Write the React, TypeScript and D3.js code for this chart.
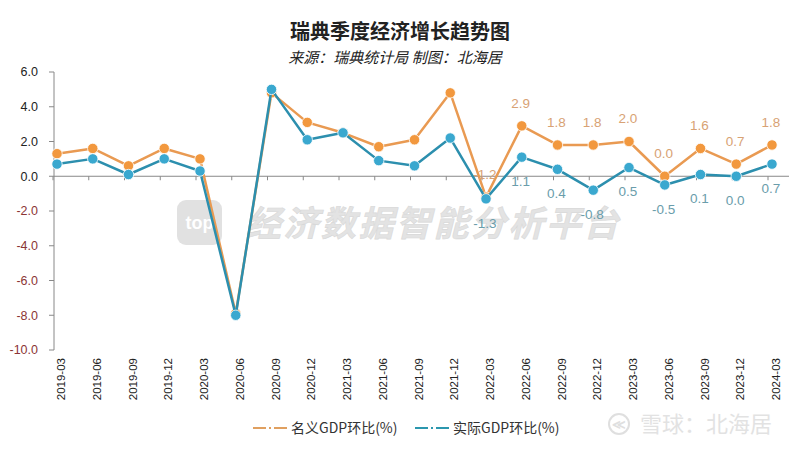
import React from "react";
import * as d3 from "d3";

const categories = [
  "2019-03","2019-06","2019-09","2019-12","2020-03","2020-06","2020-09","2020-12",
  "2021-03","2021-06","2021-09","2021-12","2022-03","2022-06","2022-09","2022-12",
  "2023-03","2023-06","2023-09","2023-12","2024-03",
];
const nominal = [1.3, 1.6, 0.6, 1.6, 1.0, -7.9, 4.8, 3.1, 2.5, 1.7, 2.1, 4.8, -1.2, 2.9, 1.8, 1.8, 2.0, 0.0, 1.6, 0.7, 1.8];
const real =    [0.7, 1.0, 0.1, 1.0, 0.3, -8.0, 5.0, 2.1, 2.5, 0.9, 0.6, 2.2, -1.3, 1.1, 0.4, -0.8, 0.5, -0.5, 0.1, 0.0, 0.7];
const labelFrom = 12;
const yTicks = [6, 4, 2, 0, -2, -4, -6, -8, -10];
const seriesNames = ["名义GDP环比(%)", "实际GDP环比(%)"];

const W = 800, H = 450;
const NUM_FONT = "'Liberation Sans', Arial, sans-serif";
const CJK_FONT = "'Noto Sans CJK SC', 'Noto Sans', sans-serif";

const ORANGE_LINE = "#e99a52";
const ORANGE_PT = "#f2983e";
const BLUE_LINE = "#2c8fae";
const BLUE_PT = "#3aa8cf";
const ORANGE_LBL = "#d8a274";
const BLUE_LBL = "#6a9dab";

export default function App() {
  const x = d3.scalePoint<string>().domain(categories).range([57, 772]);
  const y = d3.scaleLinear().domain([-10, 6]).range([350, 72]);
  const line = d3
    .line<number>()
    .x((_, i) => x(categories[i]) as number)
    .y((d) => y(d));

  const series = [
    { vals: nominal, line: ORANGE_LINE, pt: ORANGE_PT, lbl: ORANGE_LBL, dy: -23 },
    { vals: real, line: BLUE_LINE, pt: BLUE_PT, lbl: BLUE_LBL, dy: 24 },
  ];

  return (
    <svg width={W} height={H} style={{ position: "absolute", left: 0, top: 0, background: "#fff" }}>
      <rect x={0} y={0} width={W} height={H} fill="#fff" />
      {/* title */}
      <text x={400} y={39} textAnchor="middle" fontFamily={CJK_FONT} fontWeight="bold" fontSize={20} fill="#222">
        瑞典季度经济增长趋势图
      </text>
      <text x={395} y={63} textAnchor="middle" fontFamily={CJK_FONT} fontStyle="italic" fontSize={15} fill="#222">
        来源：瑞典统计局 制图：北海居
      </text>

      {/* watermark */}
      <g opacity={0.8}>
        <rect x={177} y={200} width={45} height={45} rx={9} fill="#dadada" />
        <text x={199.5} y={229} textAnchor="middle" fontFamily={NUM_FONT} fontWeight="bold" fontSize={18} fill="#fff">top</text>
        <text x={246} y={236} fontFamily={CJK_FONT} fontWeight="bold" fontStyle="italic" fontSize={35} fill="#dddddd" stroke="#cfcfcf" strokeWidth={0.6} letterSpacing={2.5}>
          经济数据智能分析平台
        </text>
      </g>

      {/* y axis */}
      <line x1={54} x2={54} y1={y(6)} y2={y(-10)} stroke="#888" strokeWidth={1} />
      {yTicks.map((t) => (
        <g key={t}>
          <line x1={49} x2={54} y1={y(t)} y2={y(t)} stroke="#888" />
          <text x={38} y={y(t)} dy="0.35em" textAnchor="end" fontFamily={NUM_FONT} fontSize={12.5} fill={t < 0 ? "#8b3535" : "#222"}>
            {t.toFixed(1)}
          </text>
        </g>
      ))}

      {/* x axis at zero */}
      <line x1={54} x2={789} y1={y(0)} y2={y(0)} stroke="#888" strokeWidth={1} />
      {categories.map((c) => (
        <g key={c}>
          <line x1={(x(c) as number) - 4} x2={(x(c) as number) - 4} y1={y(0)} y2={y(0) + 4} stroke="#888" />
          <text
            transform={`translate(${(x(c) as number) + 4},${358}) rotate(-90)`}
            textAnchor="end"
            dy="0.35em"
            fontFamily={NUM_FONT}
            fontSize={11.5}
            fill="#222"
          >
            {c}
          </text>
        </g>
      ))}

      {/* series */}
      {series.map((s, si) => (
        <g key={si}>
          <path d={line(s.vals) as string} fill="none" stroke={s.line} strokeWidth={2.5} strokeLinejoin="round" />
          {s.vals.map((v, i) => (
            <circle key={i} cx={x(categories[i]) as number} cy={y(v)} r={5.2} fill={s.pt} stroke="#fff" strokeWidth={0.8} />
          ))}
        </g>
      ))}
      {series.map((s, si) => (
        <g key={"l" + si}>
          {s.vals.map((v, i) =>
            i >= labelFrom ? (
              <text
                key={i}
                x={(x(categories[i]) as number) - 1}
                y={y(v) + s.dy}
                dy="0.35em"
                textAnchor="middle"
                fontFamily={NUM_FONT}
                fontSize={13.5}
                fill={s.lbl}
              >
                {v.toFixed(1)}
              </text>
            ) : null
          )}
        </g>
      ))}

      {/* legend */}
      {[
        { x0: 253, color: "#e0a060", name: seriesNames[0] },
        { x0: 415, color: "#2b97ae", name: seriesNames[1] },
      ].map((l, i) => (
        <g key={i}>
          <line x1={l.x0} x2={l.x0 + 34} y1={428} y2={428} stroke={l.color} strokeWidth={2} strokeDasharray="13 3 2 3 13" />
          <text x={l.x0 + 38} y={428} dy="0.35em" fontFamily={CJK_FONT} fontSize={14} fill="#333">
            {l.name}
          </text>
        </g>
      ))}

      {/* bottom-right watermark */}
      <g opacity={0.8}>
        <circle cx={619} cy={424} r={10} fill="none" stroke="#d8d8d8" strokeWidth={2} />
        <text x={619} y={424} dy="0.35em" textAnchor="middle" fontFamily={NUM_FONT} fontSize={13} fontWeight="bold" fill="#d8d8d8">≪</text>
        <text x={640} y={424} dy="0.36em" fontFamily={CJK_FONT} fontSize={22} fill="#dcdcdc">
          雪球：北海居
        </text>
      </g>
    </svg>
  );
}
